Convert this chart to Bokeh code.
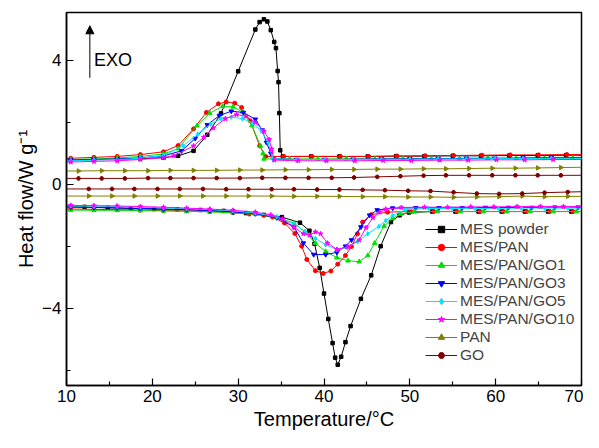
import math
from bokeh.plotting import figure
from bokeh.models import FixedTicker, Legend, LegendItem, Arrow, NormalHead, Label, Range1d
from bokeh.embed import file_html
from bokeh.resources import INLINE

# ---------------- data ----------------
x_ticks = [10, 20, 30, 40, 50, 60, 70]
x_minor = [15, 25, 35, 45, 55, 65]
y_ticks = [-4, 0, 4]
y_minor = [-6, -2, 2]
y_tick_labels = {-4: "\u22124", 0: "0", 4: "4"}

series_names = ["MES powder", "MES/PAN", "MES/PAN/GO1", "MES/PAN/GO3",
                "MES/PAN/GO5", "MES/PAN/GO10", "PAN", "GO"]

# cooling (upper) curves
mes_up_x = [10.0, 10.5, 13.2, 15.9, 18.6, 21.3, 23.0, 24.8, 26.4, 28.0, 30.0, 32.0, 32.5, 33.0, 33.4, 33.8, 34.2, 34.4, 34.6, 34.7, 34.8, 34.9, 35.2, 38.5, 41.8, 45.1, 48.4, 51.7, 55.0, 58.3, 61.6, 64.9, 68.2, 70.0]
mes_up_y = [0.78, 0.78, 0.80, 0.81, 0.83, 0.86, 0.92, 1.08, 1.60, 2.29, 3.65, 5.00, 5.24, 5.33, 5.26, 4.98, 4.60, 4.40, 3.66, 3.30, 2.30, 1.10, 0.90, 0.90, 0.90, 0.90, 0.91, 0.91, 0.92, 0.92, 0.93, 0.93, 0.94, 0.94]

pan_up_x = [10.0, 10.5, 13.2, 15.9, 18.6, 21.3, 23.0, 24.8, 26.3, 27.7, 28.6, 29.6, 30.4, 31.4, 32.5, 33.2, 35.3, 38.6, 41.9, 45.2, 48.5, 51.8, 55.1, 58.4, 61.7, 65.0, 68.3, 70.0]
pan_up_y = [0.84, 0.84, 0.87, 0.90, 0.96, 1.05, 1.25, 1.79, 2.32, 2.60, 2.66, 2.62, 2.48, 2.05, 1.24, 0.90, 0.90, 0.90, 0.90, 0.90, 0.91, 0.92, 0.93, 0.94, 0.95, 0.95, 0.96, 0.96]

go1_up_x = [10.0, 10.5, 13.2, 15.9, 18.6, 21.3, 23.0, 25.2, 26.7, 28.2, 29.4, 30.5, 31.6, 32.6, 32.9, 33.0, 36.0, 39.3, 42.6, 45.9, 49.2, 52.5, 55.8, 59.1, 62.4, 65.7, 69.0, 70.0]
go1_up_y = [0.80, 0.80, 0.82, 0.85, 0.90, 0.98, 1.15, 1.89, 2.30, 2.52, 2.50, 2.34, 1.90, 1.24, 1.00, 0.82, 0.82, 0.82, 0.82, 0.82, 0.83, 0.83, 0.83, 0.84, 0.84, 0.84, 0.85, 0.85]

go3_up_x = [10.0, 10.5, 13.2, 15.9, 18.6, 21.3, 23.4, 25.0, 26.4, 27.8, 29.2, 30.6, 32.0, 32.8, 33.3, 33.8, 34.1, 36.8, 40.1, 43.4, 46.7, 50.0, 53.3, 56.6, 59.9, 63.2, 66.5, 70.0]
go3_up_y = [0.78, 0.78, 0.80, 0.82, 0.85, 0.92, 1.08, 1.48, 1.92, 2.22, 2.36, 2.32, 2.10, 1.75, 1.35, 1.00, 0.82, 0.80, 0.80, 0.81, 0.82, 0.82, 0.83, 0.84, 0.84, 0.85, 0.86, 0.86]

go5_up_x = [10.0, 10.5, 13.2, 15.9, 18.6, 21.3, 23.6, 25.3, 26.8, 28.0, 29.2, 30.5, 31.7, 32.7, 33.5, 34.0, 36.8, 40.1, 43.4, 46.7, 50.0, 53.3, 56.6, 59.9, 63.2, 66.5, 70.0]
go5_up_y = [0.76, 0.76, 0.78, 0.80, 0.84, 0.93, 1.24, 1.62, 1.95, 2.12, 2.17, 2.12, 1.98, 1.72, 1.35, 0.83, 0.80, 0.80, 0.80, 0.81, 0.81, 0.82, 0.82, 0.83, 0.83, 0.84, 0.84]

go10_up_x = [10.0, 10.5, 13.2, 15.9, 18.6, 21.3, 22.5, 24.8, 26.0, 27.1, 28.5, 29.8, 30.9, 32.0, 33.0, 33.6, 33.9, 34.2, 37.0, 40.3, 43.6, 46.9, 50.2, 53.5, 56.8, 60.1, 63.4, 66.7, 70.0]
go10_up_y = [0.72, 0.72, 0.74, 0.76, 0.80, 0.86, 0.92, 1.24, 1.52, 1.82, 2.12, 2.25, 2.20, 2.00, 1.71, 1.45, 1.14, 0.78, 0.76, 0.76, 0.76, 0.77, 0.77, 0.78, 0.78, 0.79, 0.79, 0.80, 0.80]

panonly_up_x = [10.0, 11.4, 14.1, 16.8, 19.5, 22.1, 24.8, 27.5, 30.2, 32.8, 35.5, 38.2, 40.9, 43.5, 46.2, 48.9, 51.6, 54.2, 56.9, 59.6, 62.3, 64.9, 67.6, 70.0]
panonly_up_y = [0.43, 0.43, 0.44, 0.44, 0.44, 0.45, 0.45, 0.45, 0.46, 0.46, 0.47, 0.47, 0.48, 0.48, 0.49, 0.49, 0.50, 0.50, 0.51, 0.52, 0.52, 0.53, 0.54, 0.55]

go_up_x = [10.0, 11.4, 14.1, 16.8, 19.5, 22.1, 24.8, 27.5, 30.2, 32.8, 35.5, 38.2, 40.9, 43.5, 46.2, 48.9, 51.6, 54.2, 56.9, 59.6, 62.3, 64.9, 67.6, 70.0]
go_up_y = [0.19, 0.19, 0.19, 0.19, 0.20, 0.20, 0.20, 0.20, 0.20, 0.21, 0.21, 0.21, 0.21, 0.22, 0.24, 0.26, 0.28, 0.29, 0.29, 0.29, 0.29, 0.29, 0.29, 0.29]

# heating (lower) curves
mes_dn_x = [10.0, 12.1, 14.8, 17.5, 20.2, 22.9, 25.6, 28.3, 30.9, 33.0, 35.1, 37.2, 38.3, 38.9, 39.5, 40.0, 40.5, 41.0, 41.3, 41.6, 42.0, 42.5, 43.1, 44.3, 45.5, 46.6, 47.8, 48.8, 49.9, 52.6, 55.3, 58.0, 60.7, 63.4, 66.1, 68.8, 70.0]
mes_dn_y = [-0.72, -0.73, -0.76, -0.78, -0.80, -0.81, -0.83, -0.86, -0.93, -0.99, -1.06, -1.24, -1.50, -1.92, -2.70, -3.53, -4.35, -5.13, -5.60, -5.83, -5.57, -5.10, -4.58, -3.70, -2.94, -2.00, -1.22, -1.00, -0.91, -0.88, -0.88, -0.88, -0.88, -0.88, -0.88, -0.88, -0.88]

pan_dn_x = [10.0, 10.5, 13.2, 15.9, 18.6, 21.3, 24.0, 26.7, 29.4, 31.3, 33.0, 34.0, 35.4, 36.6, 37.4, 38.0, 39.0, 39.9, 40.8, 41.6, 42.5, 43.2, 43.9, 44.5, 45.5, 47.4, 50.1, 52.8, 55.5, 58.2, 60.9, 63.6, 66.3, 69.0, 70.0]
pan_dn_y = [-0.80, -0.80, -0.81, -0.82, -0.83, -0.85, -0.86, -0.88, -0.92, -0.96, -1.00, -1.06, -1.25, -1.59, -2.00, -2.43, -2.79, -2.88, -2.80, -2.58, -2.30, -2.01, -1.60, -1.22, -0.98, -0.90, -0.88, -0.88, -0.88, -0.88, -0.88, -0.88, -0.88, -0.88, -0.88]

go1_dn_x = [10.0, 10.5, 13.2, 15.9, 18.6, 21.3, 24.0, 26.7, 29.4, 32.0, 34.5, 36.5, 37.8, 39.0, 40.2, 41.5, 42.8, 44.1, 45.1, 45.9, 47.0, 48.0, 48.9, 50.5, 53.2, 55.9, 58.6, 61.3, 64.0, 66.7, 69.4, 70.0]
go1_dn_y = [-0.83, -0.83, -0.84, -0.84, -0.85, -0.86, -0.87, -0.89, -0.92, -0.97, -1.07, -1.25, -1.55, -1.90, -2.17, -2.37, -2.47, -2.50, -2.30, -1.90, -1.35, -1.10, -0.96, -0.89, -0.88, -0.88, -0.88, -0.88, -0.88, -0.88, -0.88, -0.88]

go3_dn_x = [10.0, 10.5, 13.2, 15.9, 18.6, 21.3, 24.0, 26.7, 29.4, 32.0, 34.5, 36.5, 37.6, 38.8, 40.2, 41.5, 42.5, 43.2, 44.3, 45.3, 46.2, 48.0, 50.7, 53.4, 56.1, 58.8, 61.5, 64.2, 66.9, 69.6, 70.0]
go3_dn_y = [-0.74, -0.74, -0.75, -0.76, -0.78, -0.80, -0.82, -0.85, -0.89, -0.95, -1.08, -1.38, -1.90, -2.27, -2.27, -2.20, -2.00, -1.80, -1.38, -1.00, -0.83, -0.77, -0.76, -0.76, -0.76, -0.75, -0.75, -0.75, -0.74, -0.74, -0.74]

go5_dn_x = [10.0, 10.5, 13.2, 15.9, 18.6, 21.3, 24.0, 26.7, 29.4, 32.0, 34.5, 36.5, 37.8, 39.0, 40.2, 41.5, 42.7, 43.9, 45.1, 46.4, 47.2, 48.0, 49.5, 52.2, 54.9, 57.6, 60.3, 63.0, 65.7, 68.4, 70.0]
go5_dn_y = [-0.70, -0.70, -0.71, -0.72, -0.74, -0.76, -0.79, -0.82, -0.86, -0.93, -1.05, -1.28, -1.52, -1.75, -1.95, -2.11, -2.05, -1.85, -1.60, -1.36, -1.17, -1.01, -0.82, -0.78, -0.78, -0.78, -0.78, -0.77, -0.77, -0.77, -0.77]

go10_dn_x = [10.0, 10.5, 13.2, 15.9, 18.6, 21.3, 24.0, 26.7, 29.4, 32.0, 33.8, 35.2, 36.5, 37.6, 38.3, 39.0, 39.6, 40.4, 41.5, 42.8, 44.1, 44.9, 45.7, 46.5, 47.2, 49.0, 51.7, 54.4, 57.1, 59.8, 62.5, 65.2, 67.9, 70.0]
go10_dn_y = [-0.68, -0.68, -0.69, -0.70, -0.72, -0.74, -0.77, -0.80, -0.84, -0.90, -0.99, -1.12, -1.38, -1.60, -1.64, -1.54, -1.60, -1.90, -2.10, -2.02, -1.80, -1.40, -1.08, -0.90, -0.80, -0.75, -0.74, -0.74, -0.73, -0.73, -0.72, -0.72, -0.72, -0.72]

panonly_dn_x = [10.0, 12.6, 15.3, 17.9, 20.6, 23.2, 25.9, 28.6, 31.2, 33.9, 36.5, 39.2, 41.8, 44.5, 47.1, 49.8, 52.4, 55.1, 57.8, 60.4, 63.1, 65.7, 68.4, 70.0]
panonly_dn_y = [-0.38, -0.38, -0.38, -0.38, -0.38, -0.38, -0.38, -0.38, -0.38, -0.38, -0.39, -0.39, -0.39, -0.40, -0.40, -0.41, -0.41, -0.42, -0.41, -0.40, -0.38, -0.40, -0.39, -0.39]

go_dn_x = [10.0, 12.6, 15.3, 17.9, 20.6, 23.2, 25.9, 28.6, 31.2, 33.9, 36.5, 39.2, 41.8, 44.5, 47.1, 49.8, 52.4, 55.1, 57.8, 60.4, 63.1, 65.7, 68.4, 70.0]
go_dn_y = [-0.15, -0.15, -0.15, -0.15, -0.15, -0.15, -0.15, -0.16, -0.16, -0.16, -0.16, -0.17, -0.17, -0.18, -0.19, -0.21, -0.22, -0.26, -0.30, -0.31, -0.30, -0.27, -0.25, -0.24]

# ---------------- styles ----------------
FONT = "Liberation Sans"
colors = ["#000000", "#ff0000", "#00e000", "#0000ff", "#00e5ff", "#ff00ff", "#808000", "#800000"]
markers = ["square", "circle", "triangle", "inverted_triangle", "diamond", "star", "triangle", "hex"]
marker_angles = [0, 0, 0, 0, 0, 0, -math.pi / 2, 0]
marker_sizes = [3.5, 4, 4.5, 4.5, 4.5, 5, 4.5, 4]

curves = [
    ((mes_up_x, mes_up_y), (mes_dn_x, mes_dn_y)),
    ((pan_up_x, pan_up_y), (pan_dn_x, pan_dn_y)),
    ((go1_up_x, go1_up_y), (go1_dn_x, go1_dn_y)),
    ((go3_up_x, go3_up_y), (go3_dn_x, go3_dn_y)),
    ((go5_up_x, go5_up_y), (go5_dn_x, go5_dn_y)),
    ((go10_up_x, go10_up_y), (go10_dn_x, go10_dn_y)),
    ((panonly_up_x, panonly_up_y), (panonly_dn_x, panonly_dn_y)),
    ((go_up_x, go_up_y), (go_dn_x, go_dn_y)),
]

p = figure(width=583, height=432, output_backend="svg", toolbar_location=None,
           x_range=Range1d(10, 70), y_range=Range1d(-6.5, 5.55),
           min_border_left=66, min_border_right=2, min_border_top=12, min_border_bottom=44)
p.background_fill_color = "white"
p.border_fill_color = "white"
p.outline_line_color = "black"
p.outline_line_width = 1.5
p.outline_line_alpha = 1.0
p.grid.visible = False

items = []
for i, name in enumerate(series_names):
    rends = []
    for (xs, ys) in curves[i]:
        l = p.line(xs, ys, line_color=colors[i], line_width=1.0)
        s = p.scatter(xs[1:-1], ys[1:-1], marker=markers[i], size=marker_sizes[i],
                      angle=marker_angles[i], fill_color=colors[i], line_color=colors[i])
        rends.append((l, s))
    items.append(LegendItem(label=name, renderers=[rends[0][0], rends[0][1]]))

for ax in (p.xaxis[0], p.yaxis[0]):
    ax.axis_line_width = 1.5
    ax.major_tick_in = 7
    ax.major_tick_out = 0
    ax.minor_tick_in = 4
    ax.minor_tick_out = 0
    ax.major_tick_line_width = 1.2
    ax.minor_tick_line_width = 1.2
    ax.major_label_text_font = FONT
    ax.major_label_text_font_size = "17px"
    ax.major_label_text_color = "black"
    ax.axis_label_text_font = FONT
    ax.axis_label_text_font_size = "20px"
    ax.axis_label_text_font_style = "normal"
    ax.axis_label_text_color = "black"

p.xaxis.ticker = FixedTicker(ticks=x_ticks, minor_ticks=x_minor)
p.yaxis.ticker = FixedTicker(ticks=y_ticks, minor_ticks=y_minor)
p.yaxis.major_label_overrides = y_tick_labels
p.xaxis.axis_label = "Temperature/\u00b0C"
p.yaxis.axis_label = "Heat flow/W g\u207b\u00b9"
p.xaxis.major_label_standoff = 4
p.yaxis.major_label_standoff = 5
p.xaxis.axis_label_standoff = 3
p.yaxis.axis_label_standoff = 2

legend = Legend(items=items, location=(357, 19), padding=2, margin=0, spacing=0,
                glyph_width=32, glyph_height=16, label_height=16, label_standoff=3,
                label_text_font=FONT, label_text_font_size="15.5px",
                label_text_line_height=1.0,
                background_fill_alpha=0, border_line_alpha=0)
p.add_layout(legend)

# EXO annotation
p.add_layout(Arrow(end=NormalHead(size=8, fill_color="black", line_color="black", line_width=1),
                   x_start=12.72, y_start=3.44, x_end=12.72, y_end=5.12,
                   line_color="black", line_width=1))
p.add_layout(Label(x=13.2, y=4.02, text="EXO", text_baseline="middle",
                   text_font=FONT, text_font_size="18px", text_color="black"))

open("out.html", "w").write(file_html(p, INLINE))
